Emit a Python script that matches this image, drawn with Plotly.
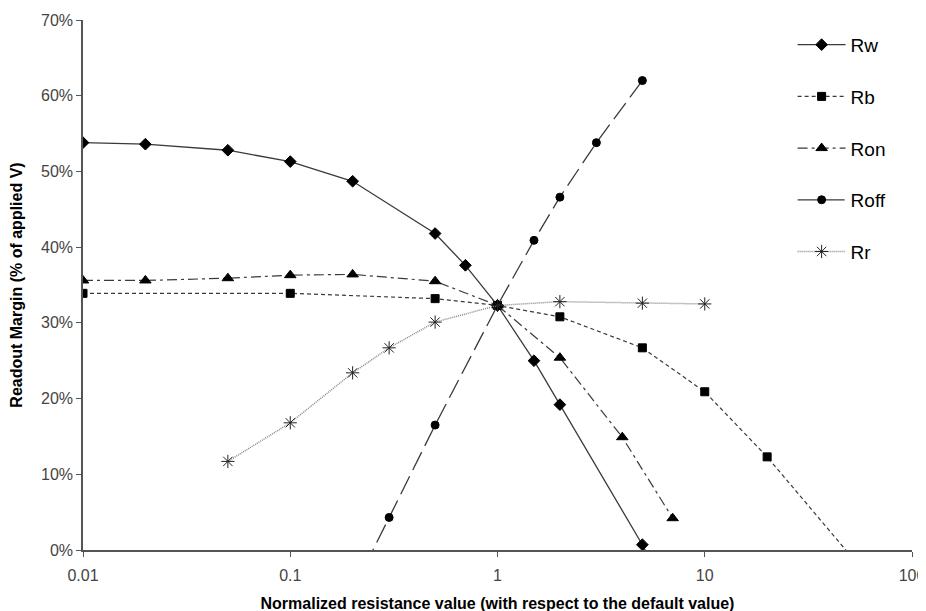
import plotly.graph_objects as go

# ---- data ----
rw_x = [0.01, 0.02, 0.05, 0.1, 0.2, 0.5, 0.7, 1, 1.5, 2, 5, 7]
rw_y = [53.8, 53.6, 52.8, 51.3, 48.7, 41.8, 37.6, 32.3, 25.0, 19.2, 0.7, -7.0]

rb_x = [0.01, 0.1, 0.5, 1, 2, 5, 10, 20, 50]
rb_y = [33.9, 33.9, 33.2, 32.3, 30.8, 26.7, 20.9, 12.3, -0.6]

ron_x = [0.01, 0.02, 0.05, 0.1, 0.2, 0.5, 1, 2, 4, 7]
ron_y = [35.6, 35.6, 35.9, 36.3, 36.4, 35.5, 32.3, 25.4, 14.9, 4.2]

roff_x = [0.2, 0.3, 0.5, 1, 1.5, 2, 3, 5]
roff_y = [-5.4, 4.3, 16.5, 32.3, 40.9, 46.6, 53.8, 62.0]

rr_x = [0.05, 0.1, 0.2, 0.3, 0.5, 1, 2, 5, 10]
rr_y = [11.7, 16.8, 23.4, 26.7, 30.1, 32.3, 32.8, 32.6, 32.5]

y_ticks = [0, 10, 20, 30, 40, 50, 60, 70]
y_tick_labels = [f"{v}%" for v in y_ticks]
x_ticks = [0.01, 0.1, 1, 10, 100]
x_tick_labels = ["0.01", "0.1", "1", "10", "100"]

series = [
    ("Rw", rw_x, rw_y, "solid", 1.3, "#3a3a3a", "diamond", 9, "#000000"),
    ("Rb", rb_x, rb_y, "4px,3px", 1.2, "#3a3a3a", "square", 8, "#000000"),
    ("Ron", ron_x, ron_y, "10px,4px,3px,4px", 1.2, "#3a3a3a", "triangle-up", 10, "#000000"),
    ("Roff", roff_x, roff_y, "20px,7px", 1.3, "#3a3a3a", "circle", 8, "#000000"),
    ("Rr", rr_x, rr_y, "1px,1px", 1.5, "#888888", "asterisk-open", 11, "#222222"),
]

fig = go.Figure()
for name, xs, ys, dash, lw, lc, sym, ms, mc in series:
    fig.add_trace(go.Scatter(
        x=xs, y=ys, name=name, mode="lines+markers",
        legendgroup=name,
        line=dict(color=lc, width=lw, dash=dash),
        marker=dict(symbol=sym, size=ms, color=mc,
                    line=dict(color=mc, width=1)),
    ))

fig.update_layout(
    width=926, height=611,
    margin=dict(l=75, r=22, t=12, b=69),
    paper_bgcolor="white", plot_bgcolor="white",
    font=dict(family="Liberation Sans, Arial, sans-serif", color="#000000"),
    showlegend=True,
    legend=dict(x=0.856, y=0.989, xanchor="left", yanchor="top",
                bgcolor="rgba(0,0,0,0)", tracegroupgap=24,
                font=dict(size=19, color="#000000"), itemwidth=48),
)
fig.update_xaxes(
    type="log", range=[-2, 2], automargin=False,
    tickvals=x_ticks, ticktext=x_tick_labels,
    ticks="outside", ticklen=5, tickcolor="#555555",
    showline=True, linecolor="#555555", linewidth=1.5,
    showgrid=False, zeroline=False, ticklabelstandoff=5,
    tickfont=dict(size=16, color="#444444"),
    title=dict(text="<b>Normalized resistance value (with respect to the default value)</b>",
               font=dict(size=16, color="#000000"), standoff=15),
)
fig.update_yaxes(
    range=[0, 70], automargin=False,
    tickvals=y_ticks, ticktext=y_tick_labels,
    ticks="outside", ticklen=5, tickcolor="#555555",
    showline=True, linecolor="#555555", linewidth=1.5,
    showgrid=False, zeroline=False,
    tickfont=dict(size=16, color="#444444"),
    title=dict(text="<b>Readout Margin (% of applied V)</b>",
               font=dict(size=16, color="#000000"), standoff=15),
)

fig.write_html("out.html")
